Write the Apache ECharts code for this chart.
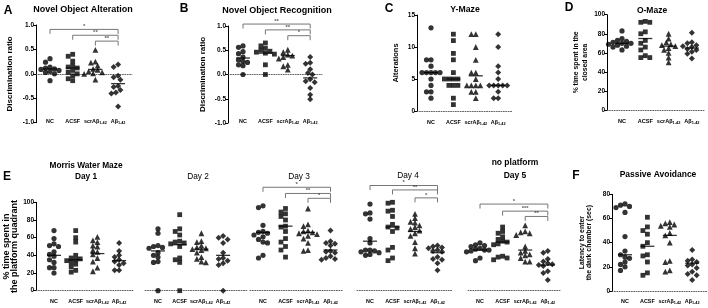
<!DOCTYPE html>
<html><head><meta charset="utf-8">
<script src="https://cdn.jsdelivr.net/npm/echarts@6/dist/echarts.min.js"></script>
<style>html,body{margin:0;padding:0;background:#fff}#c{width:708px;height:308px}</style>
</head><body><div id="c"></div><script>
const FONT = 'Liberation Sans, Arial, sans-serif';
const GROUP_LABELS = ['NC', 'ACSF', 'scrAβ{s|1-42}', 'Aβ{s|1-42}'];

// A: Novel Object Alteration (discrimination ratio)
const A_NC   = [0.31, 0.24, 0.14, 0.12, 0.10, 0.09, 0.07, 0.05, 0.03, 0.00, -0.14];
const A_ACSF = [0.40, 0.36, 0.26, 0.17, 0.14, 0.12, 0.07, 0.03, 0.00, -0.04, -0.10, -0.14];
const A_SCR  = [0.49, 0.25, 0.23, 0.17, 0.10, 0.08, 0.05, 0.03, 0.01, 0.00, -0.12];
const A_AB   = [0.19, 0.14, -0.04, -0.07, -0.12, -0.25, -0.27, -0.33, -0.38, -0.40, -0.67];
const A_MEAN = [0.10, 0.12, 0.09, -0.20];
const A_SIG  = [[0, 3, 0.91, '*'], [1, 3, 0.79, '**'], [2, 3, 0.67, '**']];

// B: Novel Object Recognition
const B_NC   = [0.59, 0.56, 0.47, 0.43, 0.36, 0.30, 0.27, 0.25, 0.20, 0.18, 0.00];
const B_ACSF = [0.65, 0.59, 0.54, 0.50, 0.48, 0.46, 0.44, 0.42, 0.20, 0.00];
const B_SCR  = [0.51, 0.46, 0.41, 0.39, 0.36, 0.33, 0.20, 0.17, 0.10];
const B_AB   = [0.36, 0.24, 0.22, 0.11, 0.03, 0.00, -0.10, -0.14, -0.16, -0.28, -0.42, -0.51];
const B_MEAN = [0.34, 0.44, 0.39, -0.07];
const B_SIG  = [[0, 3, 1.04, '**'], [1, 3, 0.92, '**'], [2, 3, 0.80, '*']];

// C: Y-Maze alterations
const C_NC   = [13, 8, 8, 7, 6, 6, 6, 6, 6, 5, 4, 3, 3, 2];
const C_ACSF = [12, 11, 9, 8, 6, 5, 5, 5, 5, 4, 4, 4, 2, 1];
const C_SCR  = [12, 12, 10, 8, 6, 6, 5, 4, 4, 4, 4, 3, 3, 2];
const C_AB   = [12, 10, 7, 6, 5, 4, 4, 4, 4, 4, 3, 2, 2];
const C_MEAN = [6, 5, 5.5, 4];

// D: O-Maze % time in closed area
const D_NC   = [83, 75, 73, 72, 71, 70, 70, 69, 68, 67, 66, 63];
const D_ACSF = [93, 92, 92, 82, 80, 73, 70, 66, 63, 57, 55, 55];
const D_SCR  = [80, 75, 71, 69, 68, 67, 65, 63, 60, 55, 50];
const D_AB   = [81, 71, 70, 68, 67, 66, 64, 63, 61, 59, 54];
const D_MEAN = [70, 75, 67, 65];

// E: Morris Water Maze, days 1-5
const E1_NC   = [68, 59, 53, 51, 50, 44, 41, 39, 35, 32, 26, 26, 20];
const E1_ACSF = [68, 60, 55, 40, 37, 36, 35, 34, 32, 30, 27, 23, 21];
const E1_SCR  = [61, 57, 55, 51, 50, 46, 44, 41, 37, 33, 26, 22];
const E1_AB   = [54, 45, 40, 38, 35, 33, 31, 29, 23, 23];
const E1_MEAN = [40, 35, 42, 34];

const E2_NC   = [70, 65, 51, 50, 49, 48, 43, 40, 38, 33, 32, 0];
const E2_ACSF = [86, 70, 67, 63, 56, 55, 54, 53, 50, 37, 35, 32, 0];
const E2_SCR  = [65, 56, 55, 51, 49, 48, 47, 46, 43, 38, 36, 33, 32];
const E2_AB   = [62, 60, 58, 54, 43, 37, 36, 34, 31, 29, 0];
const E2_MEAN = [45, 52, 47, 40];

const E3_NC   = [96, 94, 74, 67, 66, 65, 63, 61, 58, 55, 54, 40, 37];
const E3_ACSF = [93, 89, 87, 84, 80, 73, 72, 67, 59, 55, 50, 46, 38];
const E3_SCR  = [93, 75, 73, 68, 67, 66, 65, 64, 62, 59, 54, 46, 45];
const E3_AB   = [68, 56, 54, 53, 51, 45, 44, 43, 39, 37, 36, 35];
const E3_MEAN = [66, 73, 66, 46];
const E3_SIG  = [[0, 3, 117, '*'], [1, 3, 110, '**'], [2, 3, 104.5, '*']];

const E4_NC   = [98, 88, 87, 81, 59, 54, 46, 46, 45, 44, 43, 41, 40];
const E4_ACSF = [100, 99, 91, 90, 84, 75, 72, 71, 67, 49, 46, 37, 34];
const E4_SCR  = [87, 82, 78, 77, 74, 72, 70, 68, 65, 62, 55, 48, 42];
const E4_AB   = [51, 50, 49, 48, 46, 45, 44, 38, 36, 35, 31, 23];
const E4_MEAN = [56, 72, 67, 43];
const E4_SIG  = [[0, 3, 119, '*'], [1, 3, 114, '**'], [2, 3, 105, '*']];

const E5_NC   = [54, 52, 51, 50, 48, 47, 46, 46, 45, 44, 37, 34];
const E5_ACSF = [72, 67, 65, 61, 58, 56, 55, 53, 52, 39, 38, 37, 35];
const E5_SCR  = [74, 67, 66, 65, 63, 50, 45, 43, 41, 40, 37, 33, 33];
const E5_AB   = [45, 43, 36, 33, 31, 30, 29, 28, 22, 20, 12];
const E5_MEAN = [46, 55, 46, 29];
const E5_SIG  = [[0, 3, 98, '*'], [1, 3, 90, '***'], [2, 3, 84, '**']];

// F: Passive avoidance latency (sec)
const F_NC   = [72, 71, 70, 69, 65, 45, 33, 30, 28, 27, 24, 22, 20, 17];
const F_ACSF = [61, 53, 50, 47, 40, 37, 30, 29, 24, 15, 13];
const F_SCR  = [57, 56, 55, 54, 53, 48, 46, 40, 25, 24, 17, 16];
const F_AB   = [34, 26, 25, 24, 22, 21, 19, 16, 14, 13, 9];
const F_MEAN = [30, 37, 46, 23];

// panel definitions (data refs + layout)
const panels = [
  {groups: [A_NC, A_ACSF, A_SCR, A_AB], mean: A_MEAN, sig: A_SIG, yMin: -1, yMax: 1, yInt: 0.5, dec: 1,
   L: 36, R: 132, c0: 50, s: 22.7, top: 25, h: 97.7, labelY: 122, yShow: true,
   name: 'Discrimination ratio', nameGap: 22, nameSize: 8, nameLH: 9, cat: 5.4},
  {groups: [B_NC, B_ACSF, B_SCR, B_AB], mean: B_MEAN, sig: B_SIG, yMin: -1, yMax: 1, yInt: 0.5, dec: 1,
   L: 228, R: 322, c0: 243, s: 22.4, top: 26, h: 97, labelY: 122, yShow: true,
   name: 'Discrimination ratio', nameGap: 21, nameSize: 8, nameLH: 9, cat: 5.4},
  {groups: [C_NC, C_ACSF, C_SCR, C_AB], mean: C_MEAN, sig: [], yMin: 0, yMax: 15, yInt: 5, dec: 0,
   L: 417, R: 512, c0: 431, s: 22.4, top: 15, h: 96, labelY: 122.5, yShow: true,
   name: 'Alterations', nameGap: 17, nameSize: 7.5, nameLH: 9, cat: 5.4},
  {groups: [D_NC, D_ACSF, D_SCR, D_AB], mean: D_MEAN, sig: [], yMin: 0, yMax: 100, yInt: 20, dec: 0,
   L: 607, R: 705, c0: 622, s: 23.3, top: 14.7, h: 95.3, labelY: 121.7, yShow: true,
   name: '% time spent in the\nclosed area', nameGap: 17, nameSize: 6.8, nameLH: 9, cat: 5.6},
  {groups: [E1_NC, E1_ACSF, E1_SCR, E1_AB], mean: E1_MEAN, sig: [], yMin: 0, yMax: 100, yInt: 20, dec: 0,
   L: 36, R: 133, c0: 54, s: 21.7, top: 202.3, h: 88.4, labelY: 301.7, yShow: true,
   name: '% time spent in\nthe platform quadrant', nameGap: 13, nameSize: 9, nameLH: 8.5, cat: 5.4},
  {groups: [E2_NC, E2_ACSF, E2_SCR, E2_AB], mean: E2_MEAN, sig: [], yMin: 0, yMax: 100, yInt: 20, dec: 0,
   L: 145, R: 247, c0: 158, s: 21.7, top: 202.3, h: 88.4, labelY: 301.7, yShow: false, cat: 5.4},
  {groups: [E3_NC, E3_ACSF, E3_SCR, E3_AB], mean: E3_MEAN, sig: E3_SIG, yMin: 0, yMax: 100, yInt: 20, dec: 0,
   L: 250, R: 343, c0: 263, s: 22.5, top: 202.3, h: 88.4, labelY: 301.7, yShow: false, cat: 5.4},
  {groups: [E4_NC, E4_ACSF, E4_SCR, E4_AB], mean: E4_MEAN, sig: E4_SIG, yMin: 0, yMax: 100, yInt: 20, dec: 0,
   L: 357, R: 452, c0: 370, s: 22.5, top: 202.3, h: 88.4, labelY: 301.7, yShow: false, cat: 5.4},
  {groups: [E5_NC, E5_ACSF, E5_SCR, E5_AB], mean: E5_MEAN, sig: E5_SIG, yMin: 0, yMax: 100, yInt: 20, dec: 0,
   L: 468, R: 560, c0: 480, s: 22.6, top: 202.3, h: 88.4, labelY: 301.7, yShow: false, cat: 5.4},
  {groups: [F_NC, F_ACSF, F_SCR, F_AB], mean: F_MEAN, sig: [], yMin: 0, yMax: 80, yInt: 20, dec: 0,
   L: 612, R: 707, c0: 625, s: 22.4, top: 194.3, h: 96.7, labelY: 301.7, yShow: true,
   name: 'Latency to enter\nthe dark chamber (sec)', nameGap: 19, nameSize: 6.9, nameLH: 7.2, cat: 5.4}
];

const SYMS = ['circle', 'rect', 'triangle', 'diamond'];
const SIZES = [5.2, 4.8, 5.8, 6];
const SWARM_D = 4.5;

function swarm(vals, ppu, d) {
  const order = vals.map((v, i) => i).sort((a, b) => vals[b] - vals[a]);
  const placed = [];
  const off = new Array(vals.length).fill(0);
  order.forEach(i => {
    const y = vals[i] * ppu;
    for (let k = 0; k < 40; k++) {
      const step = Math.ceil(k / 2) * d * 0.5;
      const c = k === 0 ? 0 : (k % 2 === 1 ? -step : step);
      const ok = placed.every(p => Math.hypot(p[0] - c, p[1] - y) >= d * 0.95);
      if (ok) { off[i] = c; placed.push([c, y]); break; }
    }
  });
  return off;
}

const option = {animation: false, grid: [], xAxis: [], yAxis: [], series: [], graphic: []};

panels.forEach((p, i) => {
  const xmin = (p.L - p.c0) / p.s;
  const xmax = 3 + (p.R - (p.c0 + 3 * p.s)) / p.s;
  const ppu = p.h / (p.yMax - p.yMin);
  const bottomY = p.top + p.h;
  option.grid.push({left: p.L, top: p.top, width: p.R - p.L, height: p.h});
  option.xAxis.push({
    gridIndex: i, type: 'value', min: xmin, max: xmax,
    splitLine: {show: false}, axisTick: {show: false},
    axisLine: {show: true, onZero: true, lineStyle: {color: '#555', type: [1, 1.4], width: 0.9}},
    axisLabel: {
      customValues: [0, 1, 2, 3],
      formatter: v => GROUP_LABELS[Math.round(v)],
      margin: p.labelY - bottomY, verticalAlign: 'middle',
      fontSize: p.cat, fontWeight: 'bold', color: '#000', fontFamily: FONT,
      rich: {s: {fontSize: p.cat * 0.7, fontWeight: 'bold', color: '#000', fontFamily: FONT, padding: [p.cat * 0.5, 0, 0, 0]}}
    }
  });
  option.yAxis.push({
    gridIndex: i, type: 'value', min: p.yMin, max: p.yMax, interval: p.yInt, show: p.yShow,
    splitLine: {show: false},
    axisLine: {show: true, onZero: false, lineStyle: {color: '#000', width: 1}},
    axisTick: {show: true, length: 3, lineStyle: {color: '#000', width: 1}},
    axisLabel: {fontSize: 6.5, fontWeight: 'bold', color: '#000', fontFamily: FONT, margin: 2,
      formatter: v => Number(v).toFixed(p.dec)},
    name: p.name || '', nameLocation: 'middle', nameRotate: 90, nameGap: p.nameGap || 10,
    nameTextStyle: {fontSize: p.nameSize || 8, fontWeight: 'bold', color: '#000', fontFamily: FONT,
      lineHeight: p.nameLH || 9, align: 'center'}
  });
  p.groups.forEach((vals, g) => {
    const offs = swarm(vals, ppu, SWARM_D);
    option.series.push({
      type: 'scatter', xAxisIndex: i, yAxisIndex: i, symbol: SYMS[g], symbolSize: SIZES[g],
      itemStyle: {color: '#000'}, silent: true, clip: false, z: 3,
      data: vals.map((v, k) => ({value: [g, v], symbolOffset: [offs[k], 0]}))
    });
  });
  option.series.push({
    type: 'scatter', xAxisIndex: i, yAxisIndex: i, symbol: 'rect', symbolSize: [14, 1.3],
    itemStyle: {color: '#000'}, silent: true, z: 4,
    data: p.mean.map((m, g) => [g, m])
  });
  const dy = 4.5 / ppu;
  p.sig.forEach(b => {
    const [a, c, lvl, stars] = b;
    option.series.push({
      type: 'line', xAxisIndex: i, yAxisIndex: i, showSymbol: false, clip: false, silent: true,
      lineStyle: {color: '#666', width: 0.9}, z: 2,
      data: [[a, lvl - dy], [a, lvl], [c, lvl], [c, lvl - dy]]
    });
    option.series.push({
      type: 'scatter', xAxisIndex: i, yAxisIndex: i, symbolSize: 0, clip: false, silent: true,
      data: [[(a + c) / 2, lvl]],
      label: {show: true, position: 'top', distance: 0, formatter: stars, fontSize: 6,
        color: '#333', fontFamily: FONT, fontWeight: 'bold'}
    });
  });
});

function txt(x, y, s, size, weight) {
  return {type: 'text', x: x, y: y, silent: true,
    style: {text: s, fontSize: size, fontWeight: weight, fontFamily: FONT, fill: '#000',
      align: 'center', verticalAlign: 'middle'}};
}
option.graphic = [
  txt(8, 11, 'A', 12, 'bold'),
  txt(83, 10, 'Novel Object Alteration', 9, 'bold'),
  txt(184, 9, 'B', 12, 'bold'),
  txt(277, 11, 'Novel Object Recognition', 9, 'bold'),
  txt(389, 9, 'C', 12, 'bold'),
  txt(465, 10, 'Y-Maze', 8.7, 'bold'),
  txt(569, 8, 'D', 12, 'bold'),
  txt(652, 11, 'O-Maze', 8.5, 'bold'),
  txt(7, 177, 'E', 12, 'bold'),
  txt(86, 166, 'Morris Water Maze', 8.3, 'bold'),
  txt(86, 176.5, 'Day 1', 8.3, 'bold'),
  txt(198, 176.5, 'Day 2', 8.3, 'normal'),
  txt(299, 176.5, 'Day 3', 8.3, 'normal'),
  txt(408, 176, 'Day 4', 8.3, 'normal'),
  txt(515, 163, 'no platform', 8.5, 'bold'),
  txt(515, 176, 'Day 5', 8.5, 'bold'),
  txt(576, 176, 'F', 12, 'bold'),
  txt(658, 175, 'Passive Avoidance', 8.5, 'bold')
];

const chart = echarts.init(document.getElementById('c'), null, {renderer: 'canvas'});
chart.setOption(option);
</script></body></html>
